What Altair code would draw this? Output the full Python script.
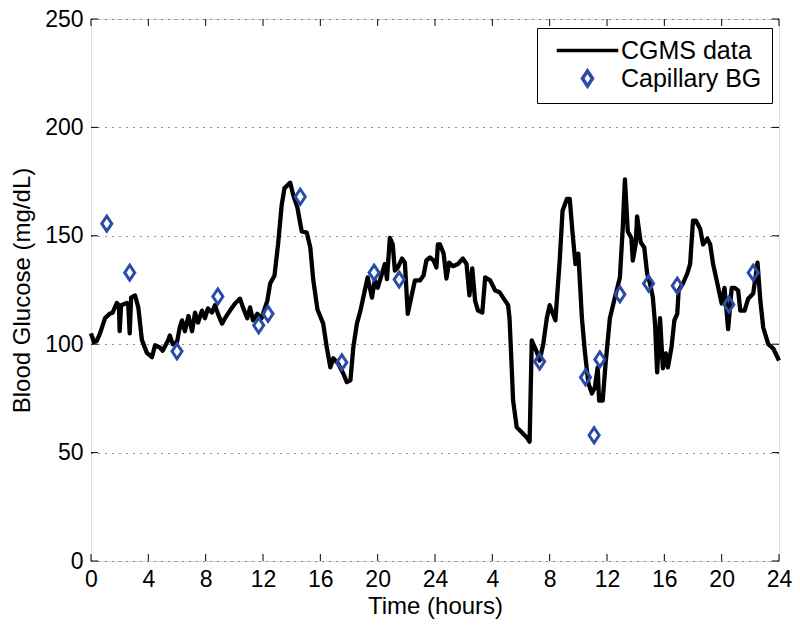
import altair as alt
import pandas as pd

# CGMS trace (time in hours over two days, glucose mg/dL)
cgms_t = [0.0, 0.2, 0.4, 0.63, 0.98, 1.3, 1.5, 1.8, 1.95, 2.0, 2.1, 2.5, 2.6, 2.7, 2.8, 3.07, 3.3, 3.55, 3.9,
          4.25, 4.47, 4.8, 5.0, 5.4, 5.5, 5.7, 6.0, 6.2, 6.35, 6.55, 6.8, 7.05, 7.26, 7.47, 7.74, 7.95,
          8.16, 8.44, 8.65, 8.86, 9.14, 9.35, 9.7, 10.05, 10.4, 10.6, 10.9, 11.1, 11.3, 11.6, 11.9,
          12.1, 12.3, 12.5, 12.8, 13.05, 13.3, 13.5,
          13.9, 14.1, 14.4, 14.7, 15.05, 15.3, 15.5, 15.8, 16.2, 16.45, 16.7, 16.9, 17.25, 17.6, 17.85,
          18.1, 18.3, 18.55, 18.8, 19.1, 19.3, 19.6, 19.8, 20.0, 20.3, 20.5, 20.65, 20.85, 21.05, 21.2,
          21.4, 21.7, 21.9, 22.1, 22.4, 22.6, 22.95, 23.2, 23.4, 23.65, 23.9, 24.1, 24.2, 24.35, 24.6,
          24.8, 24.98, 25.25, 25.6, 25.95, 26.2, 26.4, 26.6, 26.8, 27.0, 27.3, 27.5, 27.85, 28.2,
          28.5, 28.75, 29.1, 29.2, 29.3, 29.45, 29.7, 30.05, 30.4, 30.6, 30.75, 31.1, 31.3, 31.55, 31.8, 32.0,
          32.4, 32.7, 32.9, 33.2, 33.4, 33.6, 33.8, 34.0, 34.25, 34.45, 34.7, 34.95, 35.15, 35.35,
          35.45, 35.7, 35.9, 36.2, 36.55, 36.9, 37.1, 37.25, 37.45, 37.7, 37.8, 38.0, 38.1, 38.35,
          38.6, 38.8, 39.0, 39.2, 39.35, 39.5, 39.7, 39.9, 40.1, 40.25, 40.5, 40.7, 40.9, 41.0, 41.3,
          41.6, 41.8, 42.0, 42.2, 42.5, 42.7, 43.0, 43.2, 43.4, 43.7, 43.8, 44.0, 44.2, 44.45, 44.7,
          44.9, 45.15, 45.3, 45.6, 45.85, 46.2, 46.5, 46.7, 46.9, 47.25, 47.6, 48.0]
cgms_g = [105, 101, 101.5, 105, 112, 114, 114.5, 119, 118, 106, 118, 119, 118, 105, 121.5, 122.5, 117, 102, 96,
          94, 99.5, 98.5, 97, 102, 104, 100, 101, 108, 111, 106, 113, 106, 114.6, 110, 115.5, 112,
          116.5, 114.6, 118, 114, 109.5, 112, 115.5, 118.8, 121, 117, 112, 117, 111, 114, 112,
          116, 120, 128, 131.6, 146, 164, 172,
          174.5, 169, 163, 152, 151.5, 144.6, 130, 116, 109.5, 98.5, 89.3, 93.5, 91, 86.5, 82.5,
          83.3, 98.5, 109.5, 115.5, 124.8, 130.8, 121.5, 129.4, 126, 132.6, 137, 130, 149, 146, 134,
          135.4, 139.5, 137.6, 114, 123.4, 129.4, 129.4, 131.7, 138.6, 140, 138.6, 135.4, 146, 146, 141.8,
          130.3, 137.6, 136, 137, 139.5, 137, 122.5, 135, 120, 115.5, 114.6, 130.8, 129.4, 124.8,
          124, 121.5, 118, 112, 97, 74, 61.7, 59.4, 57, 55, 101.7, 96.5, 92.5, 100, 112, 118,
          111, 138.6, 161.6, 167, 167, 151, 137, 141.8, 112, 97, 82, 77.3, 80, 89.3,
          74, 74, 91, 112, 121.5, 130.8, 153.8, 176, 152, 149, 138.6, 146, 159, 147,
          144.6, 132.6, 128, 121.5, 109.5, 87, 112, 88.9, 95.8, 89.3, 98.5, 111, 114, 124.8, 128,
          132.6, 137, 157, 157, 153.3, 146, 148.7, 146, 137, 128, 124.8, 118.8, 126, 107, 126,
          126, 124.8, 115.5, 115.5, 121, 123.4, 137.6, 120, 107.7, 100, 98, 92.5]

# Capillary blood glucose readings
bg_t = [1.1, 2.7, 6.0, 8.85, 11.7, 12.35, 14.6, 17.5, 19.75, 21.5, 31.3, 34.5, 35.1, 35.5, 36.9, 38.9, 40.9, 44.5, 46.2]
bg_g = [155.6, 133, 96.7, 122, 108.7, 114, 168, 91.6, 133, 129.8, 92, 84.7, 58, 93, 123, 128, 127, 118.3, 133]

x_ticks = list(range(0, 49, 4))
y_ticks = [0, 50, 100, 150, 200, 250]
series = ["CGMS data", "Capillary BG"]

W, H = 688, 542
FONT = "Liberation Sans"
BLUE = "#2B4BA8"

cgms = pd.DataFrame({"t": cgms_t, "g": cgms_g, "series": series[0]})
bg = pd.DataFrame({"t": bg_t, "g": bg_g, "series": series[1]})
xt = pd.DataFrame({"v": x_ticks})
yt = pd.DataFrame({"v": y_ticks})

xscale = alt.Scale(domain=[0, 48], nice=False, zero=False)
yscale = alt.Scale(domain=[0, 250], nice=False)

color = alt.Color("series:N", scale=alt.Scale(domain=series, range=["black", BLUE]),
                  legend=alt.Legend(title=None, orient="none", legendX=446, legendY=9,
                                    strokeColor="black", fillColor="white", padding=10,
                                    labelFont=FONT, labelFontSize=25, labelColor="black",
                                    labelExpr="datum.label + '\u00a0'",
                                    symbolSize=225, symbolStrokeWidth=3.5, symbolOffset=28,
                                    labelOffset=21, rowPadding=0, labelLimit=300))
shape = alt.Shape("series:N", scale=alt.Scale(domain=series,
                  range=["M-4.1,0L4.1,0", "M0,-1L0.67,0L0,1L-0.67,0Z"]))

xaxis = alt.Axis(values=x_ticks, labelExpr="datum.value > 24 ? datum.value - 24 : datum.value",
                 title="Time (hours)", ticks=False, domain=False, grid=False,
                 labelFont=FONT, labelFontSize=23, labelColor="black", labelPadding=7,
                 titleFont=FONT, titleFontSize=24, titleFontWeight="normal", titleColor="black",
                 titlePadding=3, labelFlush=False)
yaxis = alt.Axis(values=y_ticks, title="Blood Glucose (mg/dL)", ticks=False, domain=False,
                 grid=True, gridDash=[1, 6], gridColor="#222", gridWidth=1,
                 labelFont=FONT, labelFontSize=23, labelColor="black", labelPadding=8,
                 titleFont=FONT, titleFontSize=24, titleFontWeight="normal", titleColor="black",
                 titlePadding=10)

line = alt.Chart(cgms).mark_line(strokeWidth=4.3, strokeJoin="round").encode(
    x=alt.X("t:Q", scale=xscale, axis=xaxis),
    y=alt.Y("g:Q", scale=yscale, axis=yaxis),
    color=color,
)
pts = alt.Chart(bg).mark_point(filled=False, strokeWidth=3, size=225, opacity=1).encode(
    x=alt.X("t:Q", scale=xscale),
    y=alt.Y("g:Q", scale=yscale),
    color=color,
    shape=shape,
)

tick_style = dict(color="black", strokeWidth=1)
xb = alt.Chart(xt).mark_rule(**tick_style).encode(x=alt.X("v:Q", scale=xscale), y=alt.value(H), y2=alt.value(H - 7))
xtp = alt.Chart(xt).mark_rule(**tick_style).encode(x=alt.X("v:Q", scale=xscale), y=alt.value(0), y2=alt.value(7))
yl = alt.Chart(yt).mark_rule(**tick_style).encode(y=alt.Y("v:Q", scale=yscale), x=alt.value(0), x2=alt.value(7))
yr = alt.Chart(yt).mark_rule(**tick_style).encode(y=alt.Y("v:Q", scale=yscale), x=alt.value(W - 7), x2=alt.value(W))

chart = alt.layer(xb, xtp, yl, yr, line, pts).properties(
    width=W, height=H,
    autosize=alt.AutoSizeParams(type="none"),
    padding={"left": 83, "top": 11, "right": 13, "bottom": 71},
).configure_view(stroke="black", strokeWidth=1).configure(background="white")

chart.save("out.html", embed_options={"renderer": "svg", "actions": False})
